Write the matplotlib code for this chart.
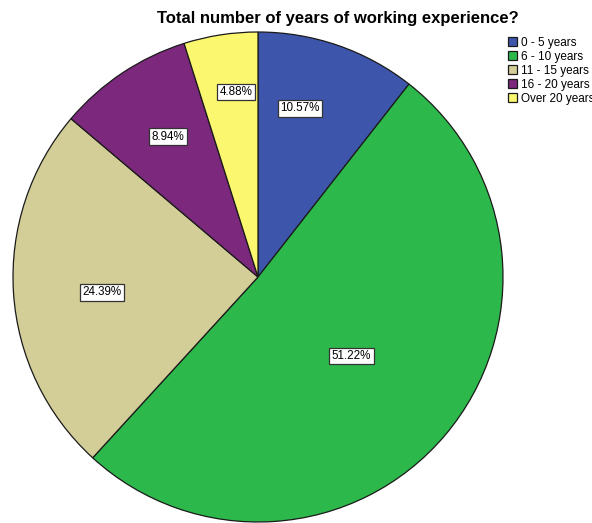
import matplotlib

matplotlib.use("Agg")
import numpy as np
from matplotlib import pyplot as plt

plt.rcParams["font.family"] = ["Liberation Sans", "DejaVu Sans"]

# respondents per experience band (n = 123)
categories = ["0 - 5 years", "6 - 10 years", "11 - 15 years", "16 - 20 years", "Over 20 years"]
counts = [13, 63, 30, 11, 6]
percent_labels = ["10.57%", "51.22%", "24.39%", "8.94%", "4.88%"]
colors = ["#3d56ac", "#2db84b", "#d3cd98", "#7c287c", "#fbf76f"]

# radial position of each percentage box, as a fraction of the radius
label_radius = [0.71, 0.50, 0.64, 0.68, 0.76]
label_shift = [5.0, 0.0, 2.0, -1.0, -2.0]

fig = plt.figure(figsize=(5.92, 5.23), dpi=100)
ax = fig.add_axes([13 / 592, 1 / 523, 490 / 592, 490 / 523])

wedges, _ = ax.pie(
    counts,
    colors=colors,
    startangle=90,
    counterclock=False,
    wedgeprops=dict(edgecolor="#1a1a1a", linewidth=0.9),
)
for w in wedges:
    w.set_clip_on(False)

for w, txt, r, shift in zip(wedges, percent_labels, label_radius, label_shift):
    mid = np.deg2rad(0.5 * (w.theta1 + w.theta2) + shift)
    ax.text(
        r * np.cos(mid),
        r * np.sin(mid),
        txt,
        ha="center",
        va="center",
        fontsize=8.4,
        bbox=dict(boxstyle="square,pad=0.2", facecolor="white", edgecolor="#333333", linewidth=0.9),
    )

ax.set_xlim(-1, 1)
ax.set_ylim(-1, 1)
ax.set_aspect("equal")
ax.axis("off")

fig.text(
    338 / 592,
    1 - 19 / 523,
    "Total number of years of working experience?",
    ha="center",
    va="center",
    fontsize=12,
    fontweight="bold",
)

fig.legend(
    wedges,
    categories,
    loc="upper left",
    bbox_to_anchor=(508 / 592, 1 - 37 / 523),
    frameon=False,
    fontsize=8.5,
    handlelength=0.8,
    handleheight=0.8,
    handletextpad=0.3,
    labelspacing=0.17,
    borderpad=0.0,
    borderaxespad=0.0,
)

fig.savefig("out.png", dpi=100, facecolor="white")
